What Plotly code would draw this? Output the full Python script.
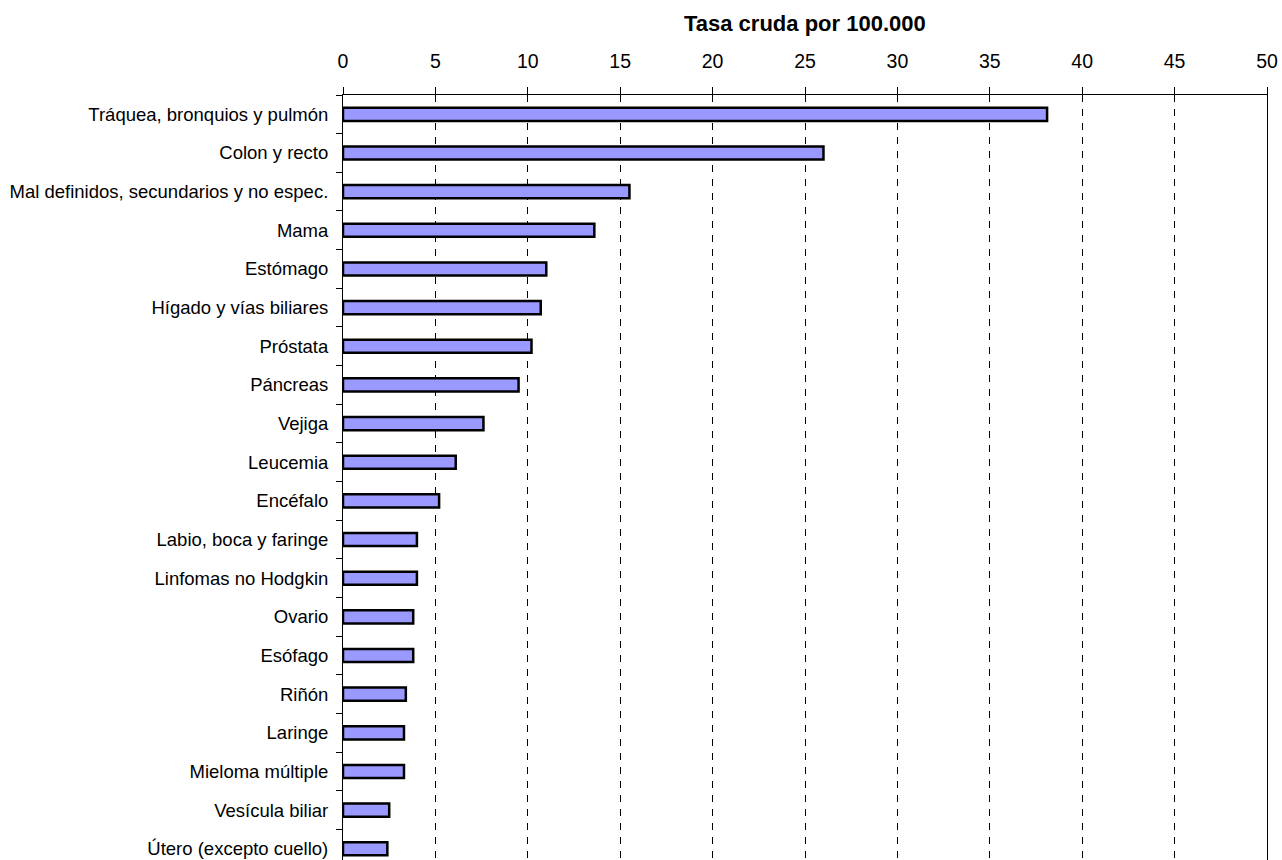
import plotly.graph_objects as go

# Crude mortality rate per 100,000 by cancer site
sites = [
    "Tráquea, bronquios y pulmón",
    "Colon y recto",
    "Mal definidos, secundarios y no espec.",
    "Mama",
    "Estómago",
    "Hígado y vías biliares",
    "Próstata",
    "Páncreas",
    "Vejiga",
    "Leucemia",
    "Encéfalo",
    "Labio, boca y faringe",
    "Linfomas no Hodgkin",
    "Ovario",
    "Esófago",
    "Riñón",
    "Laringe",
    "Mieloma múltiple",
    "Vesícula biliar",
    "Útero (excepto cuello)",
]
rates = [38.1, 26.0, 15.5, 13.6, 11.0, 10.7, 10.2, 9.5, 7.6, 6.1,
         5.2, 4.0, 4.0, 3.8, 3.8, 3.4, 3.3, 3.3, 2.5, 2.4]

x_ticks = [0, 5, 10, 15, 20, 25, 30, 35, 40, 45, 50]
axis_title = "Tasa cruda por 100.000"

FONT = "Arial, Liberation Sans, sans-serif"

fig = go.Figure(
    go.Bar(
        y=sites,
        x=rates,
        orientation="h",
        width=0.34,
        marker=dict(color="#9999FF", line=dict(color="black", width=2.5)),
        hoverinfo="x+y",
    )
)

fig.update_layout(
    width=1282,
    height=860,
    margin=dict(l=343, r=15, t=95, b=0),
    paper_bgcolor="white",
    plot_bgcolor="white",
    showlegend=False,
    font=dict(family=FONT, size=18, color="black"),
    xaxis=dict(
        side="top",
        range=[0, 50],
        tickvals=x_ticks,
        ticks="outside",
        ticklen=7,
        tickwidth=1,
        tickcolor="black",
        showline=True,
        linecolor="black",
        linewidth=1,
        showgrid=True,
        gridcolor="black",
        gridwidth=1,
        griddash="7px,7px",
        zeroline=False,
        tickfont=dict(size=19.5),
        ticklabelstandoff=11,
    ),
    yaxis=dict(
        type="category",
        categoryorder="array",
        categoryarray=sites,
        range=[19.29, -0.5],
        showline=True,
        mirror=True,
        linecolor="black",
        linewidth=1,
        ticks="outside",
        tickson="boundaries",
        ticklen=6,
        tickcolor="black",
        showgrid=False,
        tickfont=dict(size=18.5),
        ticklabelstandoff=10,
    ),
    annotations=[
        dict(
            text="<b>" + axis_title + "</b>",
            xref="paper",
            yref="paper",
            x=0.5,
            y=1,
            yshift=72,
            xanchor="center",
            yanchor="middle",
            showarrow=False,
            font=dict(family=FONT, size=22, color="black"),
        )
    ],
)

fig.write_html("out.html")
